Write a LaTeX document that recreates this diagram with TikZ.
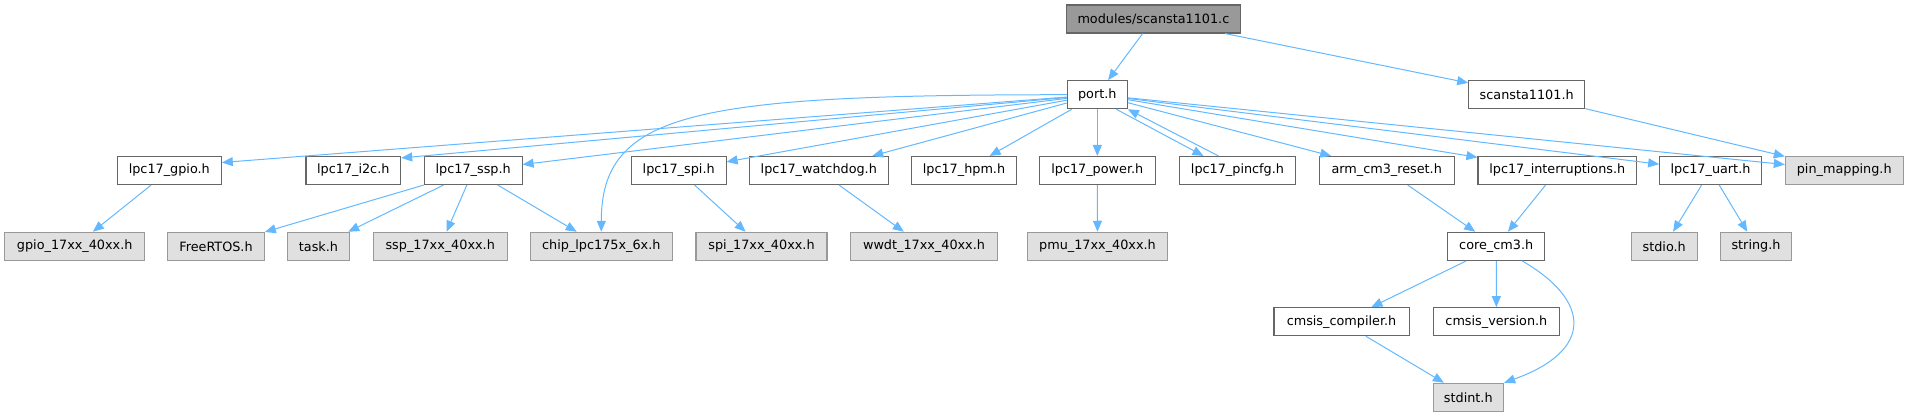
\documentclass[tikz,border=0pt]{standalone}
\usepackage{fontspec}
\setmainfont{DejaVu Sans}
\usepackage{tikz}
\usetikzlibrary{positioning,arrows.meta,calc}

\definecolor{edgeblue}{HTML}{63B8FF}
\definecolor{boxline}{HTML}{666666}
\definecolor{extline}{HTML}{999999}
\definecolor{extfill}{HTML}{E0E0E0}
\definecolor{srcfill}{HTML}{999999}

\begin{document}
\begin{tikzpicture}[x=1pt,y=-1pt,
    hfile/.style={draw=boxline, line width=1.1pt, fill=white, minimum height=28pt, inner sep=0pt, font=\fontsize{12.8}{15}\selectfont},
    sysfile/.style={hfile, draw=extline, fill=extfill},
    srcfile/.style={hfile, fill=srcfill},
    incl/.style={draw=edgeblue, line width=1pt, arrows={-{Triangle[length=11pt,width=9pt]}}}]

    \useasboundingbox (0,0) rectangle (1908,417);

    % top: the source file and its two includes
    \node[srcfile, minimum width=174.7pt] (scansrc) at (1153.4,19) {modules/scansta1101.c};
    \node[hfile, minimum width=60pt] (port) at (1097.3,94.7) {port.h};
    \node[hfile, minimum width=116pt] (scanh) at (1526.7,94.7) {scansta1101.h};

    % second row
    \node[hfile, minimum width=104pt] (gpio) at (169.3,170.5) {lpc17\_gpio.h};
    \node[hfile, minimum width=94.7pt] (i2c) at (353.3,170.5) {lpc17\_i2c.h};
    \node[hfile, minimum width=97.7pt] (ssp) at (473.2,170.5) {lpc17\_ssp.h};
    \node[hfile, minimum width=94.7pt] (spi) at (678.7,170.5) {lpc17\_spi.h};
    \node[hfile, minimum width=139pt] (wdog) at (818.8,170.5) {lpc17\_watchdog.h};
    \node[hfile, minimum width=104.6pt] (hpm) at (964,170.5) {lpc17\_hpm.h};
    \node[hfile, minimum width=116pt] (power) at (1097.3,170.5) {lpc17\_power.h};
    \node[hfile, minimum width=115.6pt] (pincfg) at (1237.5,170.5) {lpc17\_pincfg.h};
    \node[hfile, minimum width=134.7pt] (armrst) at (1386.7,170.5) {arm\_cm3\_reset.h};
    \node[hfile, minimum width=158.7pt] (irq) at (1557.3,170.5) {lpc17\_interruptions.h};
    \node[hfile, minimum width=101.6pt] (uart) at (1710.5,170.5) {lpc17\_uart.h};
    \node[sysfile, minimum width=117.7pt] (pinmap) at (1844.2,170.5) {pin\_mapping.h};

    % third row
    \node[sysfile, minimum width=140pt] (gpiodrv) at (74.7,246.3) {gpio\_17xx\_40xx.h};
    \node[sysfile, minimum width=96.6pt] (rtos) at (216,246.3) {FreeRTOS.h};
    \node[sysfile, minimum width=61.6pt] (task) at (318.5,246.3) {task.h};
    \node[sysfile, minimum width=133.7pt] (sspdrv) at (440.2,246.3) {ssp\_17xx\_40xx.h};
    \node[sysfile, minimum width=142pt] (chip) at (601.3,246.3) {chip\_lpc175x\_6x.h};
    \node[sysfile, minimum width=131pt] (spidrv) at (761.5,246.3) {spi\_17xx\_40xx.h};
    \node[sysfile, minimum width=146.6pt] (wwdt) at (924,246.3) {wwdt\_17xx\_40xx.h};
    \node[sysfile, minimum width=140.4pt] (pmu) at (1097.5,246.3) {pmu\_17xx\_40xx.h};
    \node[hfile, minimum width=96.9pt] (core) at (1496.2,246.3) {core\_cm3.h};
    \node[sysfile, minimum width=66.3pt] (stdio) at (1664.2,246.3) {stdio.h};
    \node[sysfile, minimum width=70.5pt] (string) at (1756,246.3) {string.h};

    % cmsis
    \node[hfile, minimum width=135.1pt] (compiler) at (1341.5,321.7) {cmsis\_compiler.h};
    \node[hfile, minimum width=126.7pt] (version) at (1496.4,321.7) {cmsis\_version.h};
    \node[sysfile, minimum width=70.5pt] (stdint) at (1468.3,397.3) {stdint.h};

    \draw[incl] (scansrc) -- (port);
    \draw[incl] (scansrc) -- (scanh);
    \draw[incl] (scanh) -- (pinmap);

    % port.h fan out
    \draw[incl] (port) -- ([yshift=8pt]gpio.east);
    \draw[incl] (port) -- ([yshift=-2pt]i2c.north east);
    \draw[incl] (port) -- (ssp);
    \draw[incl] (port.west) .. controls (700,95) and (601.3,110) .. (chip.north);
    \draw[incl] (port) -- (spi);
    \draw[incl] (port) -- (wdog);
    \draw[incl] (port) -- (hpm);
    \draw[incl] (port) -- (power);
    \draw[incl] ([xshift=19pt]port.south) -- ([xshift=-34pt]pincfg.north);
    \draw[incl] ([xshift=-19pt]pincfg.north) -- (port.south east);
    \draw[incl] (port) -- (armrst);
    \draw[incl] (port) -- (irq);
    \draw[incl] (port) -- (uart);
    \draw[incl] (port) -- (pinmap);

    \draw[incl] (gpio) -- (gpiodrv);
    \draw[incl] (ssp) -- (rtos);
    \draw[incl] (ssp) -- (task);
    \draw[incl] (ssp) -- (sspdrv);
    \draw[incl] (ssp) -- (chip);
    \draw[incl] (spi) -- (spidrv);
    \draw[incl] (wdog) -- (wwdt);
    \draw[incl] (power) -- (pmu);
    \draw[incl] (armrst) -- (core);
    \draw[incl] (irq) -- (core);
    \draw[incl] (uart) -- (stdio);
    \draw[incl] (uart) -- (string);

    \draw[incl] (core) -- (compiler);
    \draw[incl] (core) -- (version);
    \draw[incl] ([xshift=25.8pt]core.south) .. controls (1590,300) and (1595,350) .. (stdint.north east);
    \draw[incl] (compiler) -- (stdint);

\end{tikzpicture}
\end{document}
